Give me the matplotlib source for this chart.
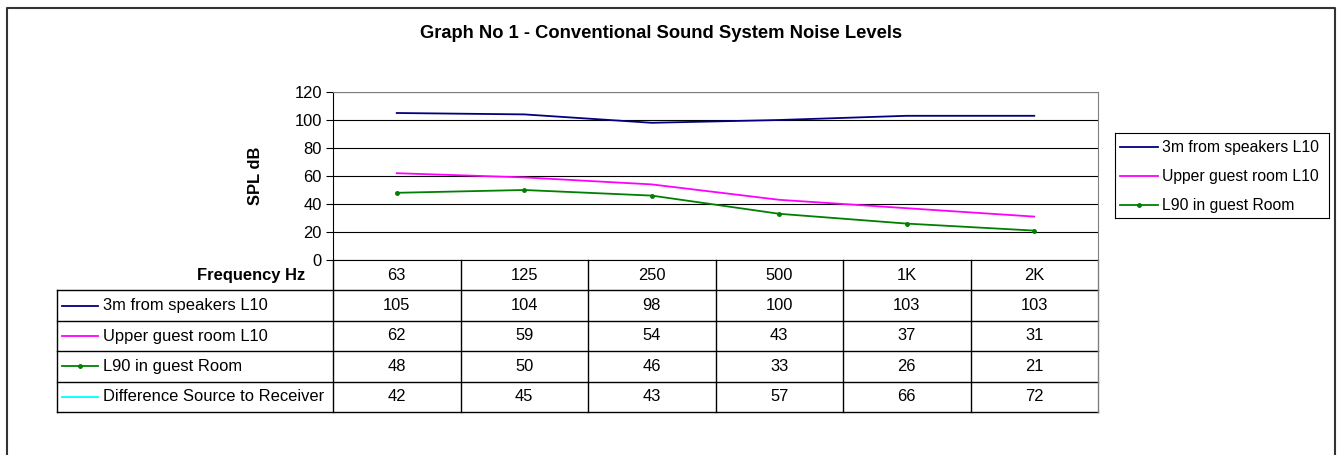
import matplotlib
matplotlib.use('Agg')
import matplotlib.pyplot as plt
from matplotlib.lines import Line2D

plt.rcParams['font.family'] = ['Liberation Sans', 'DejaVu Sans']

# data
freqs = ['63', '125', '250', '500', '1K', '2K']
names = ['3m from speakers L10', 'Upper guest room L10', 'L90 in guest Room',
         'Difference Source to Receiver']
spk_l10 = [105, 104, 98, 100, 103, 103]
room_l10 = [62, 59, 54, 43, 37, 31]
room_l90 = [48, 50, 46, 33, 26, 21]
diff = [42, 45, 43, 57, 66, 72]
colors = ['#000080', '#FF00FF', '#008000', '#00FFFF']
series = [spk_l10, room_l10, room_l90, diff]
markers = [None, None, 'o', None]

W, H = 1341, 455
fs = 11.9


def px(x0, y0, x1, y1):
    return [x0 / W, 1 - y1 / H, (x1 - x0) / W, (y1 - y0) / H]


fig = plt.figure(figsize=(W / 100, H / 100), dpi=100)

# outer frame
fig.add_artist(Line2D([7 / W, 7 / W, 1335 / W, 1335 / W], [0, 1 - 8 / H, 1 - 8 / H, 0],
                      transform=fig.transFigure, color='#333333', lw=1.5))

fig.text(661 / W, 1 - 34 / H, 'Graph No 1 - Conventional Sound System Noise Levels',
         ha='center', va='center', fontsize=13.2, fontweight='bold')
fig.text(255 / W, 1 - 176 / H, 'SPL dB', rotation=90, ha='center', va='center',
         fontsize=fs, fontweight='bold')

# plot area
ax = fig.add_axes(px(333, 92, 1098, 260))
x = list(range(len(freqs)))
for vals, c, m in zip(series[:3], colors[:3], markers[:3]):
    ax.plot(x, vals, color=c, lw=1.3, marker=m, markersize=2.5)
ax.set_xlim(-0.5, 5.5)
ax.set_ylim(0, 120)
ax.set_yticks(range(0, 121, 20))
ax.set_xticks([])
ax.yaxis.grid(True, color='black', lw=0.8)
ax.set_axisbelow(True)
ax.tick_params(axis='y', length=5, width=0.8, labelsize=fs, pad=3)
for s in ['top', 'right']:
    ax.spines[s].set_color('#808080')
for s in ['left', 'bottom']:
    ax.spines[s].set_color('black')

# data table, sharing the x scale of the plot
ppu = 765 / 6
xl = -0.5 - (333 - 57) / ppu
tab = fig.add_axes(px(57, 260, 1098, 412))
tab.set_xlim(xl, 5.5)
tab.set_ylim(5, 0)
tab.axis('off')
lc = dict(color='black', lw=1, clip_on=False)
for r in range(1, 6):
    tab.plot([xl, 5.5], [r, r], **lc)
for k in range(7):
    tab.plot([k - 0.5, k - 0.5], [0, 5], color='black' if k < 6 else '#808080', lw=1, clip_on=False)
tab.plot([xl, xl], [1, 5], **lc)

tab.text(-0.5 - 28 / ppu, 0.5, 'Frequency Hz', ha='right', va='center',
         fontsize=fs, fontweight='bold')
for i, f in enumerate(freqs):
    tab.text(i, 0.5, f, ha='center', va='center', fontsize=fs)
for r, (nm, vals, c, m) in enumerate(zip(names, series, colors, markers), start=1):
    tab.plot([xl + 5 / ppu, xl + 41 / ppu], [r + 0.5, r + 0.5], color=c, lw=1.3)
    if m:
        tab.plot([xl + 23 / ppu], [r + 0.5], color=c, marker=m, markersize=2.5)
    tab.text(xl + 46 / ppu, r + 0.5, nm, ha='left', va='center', fontsize=fs)
    for i, v in enumerate(vals):
        tab.text(i, r + 0.5, str(v), ha='center', va='center', fontsize=fs)

# legend box
lg = fig.add_axes(px(1115, 133, 1329, 218))
lg.set_xlim(0, 214)
lg.set_ylim(85, 0)
lg.set_xticks([])
lg.set_yticks([])
for s in lg.spines.values():
    s.set_color('black')
for j, (nm, c, m) in enumerate(zip(names[:3], colors[:3], markers[:3])):
    y = 14 + 29 * j
    lg.plot([5, 43], [y, y], color=c, lw=1.3)
    if m:
        lg.plot([24], [y], color=c, marker=m, markersize=2.5)
    lg.text(47, y, nm, ha='left', va='center', fontsize=11.3)

fig.savefig('out.png', dpi=100)
